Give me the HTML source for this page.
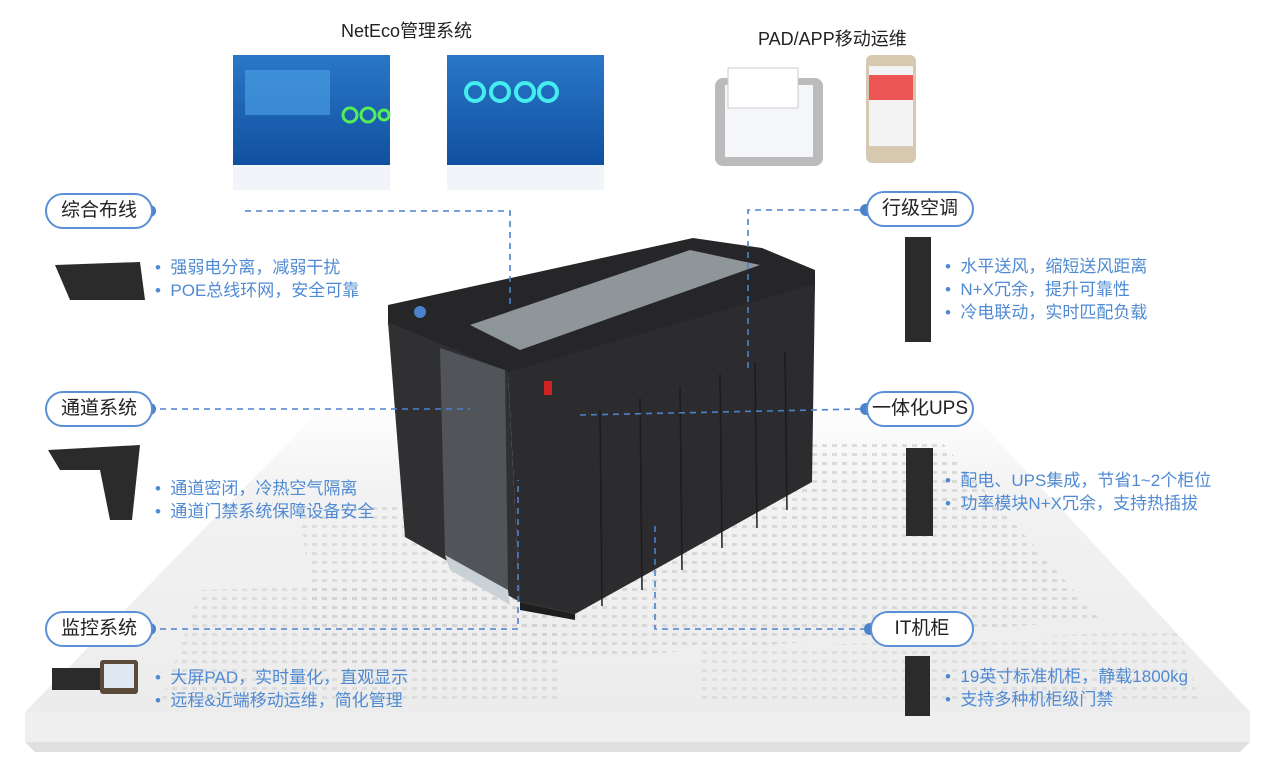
<!DOCTYPE html>
<html><head><meta charset="utf-8"><style>
body{margin:0;width:1273px;height:776px;background:#fff;position:relative;overflow:hidden;font-family:"Liberation Sans","Noto Sans CJK SC",sans-serif}
.pill{position:absolute;height:32px;border:2px solid #5b8fd6;border-radius:18px;background:#fff;font-size:19px;color:#222;line-height:32px;text-align:center;box-sizing:content-box}
.b{position:absolute;font-size:17px;color:#4f8ad3;line-height:23px;white-space:nowrap}
.t{position:absolute;font-size:18px;color:#222}
</style></head><body>
<svg width="1273" height="776" style="position:absolute;left:0;top:0">
<defs>
<linearGradient id="fl" x1="0" y1="0" x2="0" y2="1"><stop offset="0" stop-color="#fff"/><stop offset="0.3" stop-color="#f2f2f2"/><stop offset="1" stop-color="#ececec"/></linearGradient>
<linearGradient id="sc" x1="0" y1="0" x2="0" y2="1"><stop offset="0" stop-color="#2a77c8"/><stop offset="1" stop-color="#1150a0"/></linearGradient>
<pattern id="dots" width="10" height="9" patternUnits="userSpaceOnUse"><rect x="2" y="3" width="5" height="3" fill="#c8c8c8"/></pattern>
</defs>
<polygon points="330,400 960,400 1250,712 25,712" fill="url(#fl)"/>
<polygon points="25,712 1250,712 1250,742 25,742" fill="#efefef"/>
<polygon points="25,742 1250,742 1240,752 35,752" fill="#e0e0e0"/>
<polygon points="300,510 540,500 560,660 320,670" fill="url(#dots)" opacity="0.5"/>
<polygon points="560,450 940,440 1100,620 700,650 560,660" fill="url(#dots)" opacity="0.6"/>
<polygon points="200,590 560,580 560,705 160,705" fill="url(#dots)" opacity="0.45"/>
<polygon points="700,650 1180,630 1200,705 700,705" fill="url(#dots)" opacity="0.4"/>
<rect x="233" y="55" width="157" height="110" fill="url(#sc)"/>
<rect x="447" y="55" width="157" height="110" fill="url(#sc)"/>
<rect x="233" y="165" width="157" height="25" fill="#e8eef6" opacity="0.6"/>
<rect x="447" y="165" width="157" height="25" fill="#e8eef6" opacity="0.6"/>
<rect x="245" y="70" width="85" height="45" fill="#4ea3e8" opacity="0.6"/>
<circle cx="475" cy="92" r="9" fill="none" stroke="#4ee" stroke-width="4"/><circle cx="500" cy="92" r="9" fill="none" stroke="#4ee" stroke-width="4"/><circle cx="525" cy="92" r="9" fill="none" stroke="#4ee" stroke-width="4"/><circle cx="548" cy="92" r="9" fill="none" stroke="#4ee" stroke-width="4"/>
<circle cx="350" cy="115" r="7" fill="none" stroke="#5e5" stroke-width="3"/><circle cx="368" cy="115" r="7" fill="none" stroke="#5e5" stroke-width="3"/><circle cx="384" cy="115" r="5" fill="none" stroke="#5e5" stroke-width="3"/>
<rect x="715" y="78" width="108" height="88" rx="8" fill="#bbb"/>
<rect x="725" y="85" width="88" height="72" fill="#f4f6fa"/>
<rect x="728" y="68" width="70" height="40" fill="#fff" stroke="#ccc"/>
<rect x="866" y="55" width="50" height="108" rx="6" fill="#d7c9b0"/>
<rect x="869" y="66" width="44" height="80" fill="#f3f3f3"/>
<rect x="869" y="75" width="44" height="25" fill="#e55"/>
<polygon points="388,305 693,238 762,248 815,270 815,290 508,378 388,325" fill="#262628"/>
<polygon points="470,325 690,250 760,265 520,350" fill="#8f9699"/>
<polygon points="508,372 815,284 812,482 575,614 520,602" fill="#2c2c2f"/>
<polygon points="388,322 508,372 520,602 405,537" fill="#303033"/>
<polygon points="440,348 505,370 508,590 445,555" fill="#515458"/>
<polygon points="445,555 508,590 510,605 450,570" fill="#c8d2d6"/>
<polygon points="520,602 575,614 575,620 520,610" fill="#1e1e1e"/>
<rect x="544" y="381" width="8" height="14" fill="#c22"/>
<g stroke="#1c1c1c" stroke-width="1.5">
<line x1="600" y1="410" x2="602" y2="606"/><line x1="640" y1="398" x2="642" y2="590"/><line x1="680" y1="386" x2="682" y2="570"/><line x1="720" y1="374" x2="722" y2="548"/><line x1="755" y1="362" x2="757" y2="528"/><line x1="785" y1="352" x2="787" y2="510"/>
</g>
<g stroke="#4a82cc" stroke-width="1.6" stroke-dasharray="6,5" fill="none">
<polyline points="245,211 510,211 510,305"/>
<polyline points="860,210 748,210 748,372"/>
<line x1="160" y1="409" x2="470" y2="409"/>
<line x1="580" y1="415" x2="860" y2="409"/>
<polyline points="160,629 518,629 518,480"/>
<polyline points="866,629 655,629 655,525"/>
</g>
<g fill="#4a82cc"><circle cx="150" cy="211" r="6"/><circle cx="150" cy="409" r="6"/><circle cx="150" cy="629" r="6"/><circle cx="866" cy="210" r="6"/><circle cx="866" cy="409" r="6"/><circle cx="870" cy="629" r="6"/><circle cx="420" cy="312" r="6"/></g>
<g fill="#2b2b2b">
<polygon points="55,265 140,262 145,300 70,300"/>
<polygon points="48,450 140,445 132,520 110,520 100,470 60,470"/>
<rect x="52" y="668" width="48" height="22"/><rect x="100" y="660" width="38" height="34" rx="3" fill="#5a4a3a"/>
<rect x="905" y="237" width="26" height="105"/>
<rect x="906" y="448" width="27" height="88"/>
<rect x="905" y="656" width="25" height="60"/>
</g>
<rect x="104" y="664" width="30" height="24" fill="#dfe8f2"/>
</svg>
<div class="t" style="left:341px;top:17px">NetEco管理系统</div>
<div class="t" style="left:758px;top:25px">PAD/APP移动运维</div>
<div class="pill" style="left:45px;top:193px;width:104px">综合布线</div>
<div class="pill" style="left:45px;top:391px;width:104px">通道系统</div>
<div class="pill" style="left:45px;top:611px;width:104px">监控系统</div>
<div class="pill" style="left:866px;top:191px;width:104px">行级空调</div>
<div class="pill" style="left:866px;top:391px;width:104px">一体化UPS</div>
<div class="pill" style="left:870px;top:611px;width:100px">IT机柜</div>
<div class="b" style="left:155px;top:256px">•&nbsp;&nbsp;强弱电分离，减弱干扰<br>•&nbsp;&nbsp;POE总线环网，安全可靠</div>
<div class="b" style="left:155px;top:477px">•&nbsp;&nbsp;通道密闭，冷热空气隔离<br>•&nbsp;&nbsp;通道门禁系统保障设备安全</div>
<div class="b" style="left:155px;top:666px">•&nbsp;&nbsp;大屏PAD，实时量化，直观显示<br>•&nbsp;&nbsp;远程&amp;近端移动运维，简化管理</div>
<div class="b" style="left:945px;top:255px">•&nbsp;&nbsp;水平送风，缩短送风距离<br>•&nbsp;&nbsp;N+X冗余，提升可靠性<br>•&nbsp;&nbsp;冷电联动，实时匹配负载</div>
<div class="b" style="left:945px;top:469px">•&nbsp;&nbsp;配电、UPS集成，节省1~2个柜位<br>•&nbsp;&nbsp;功率模块N+X冗余，支持热插拔</div>
<div class="b" style="left:945px;top:665px">•&nbsp;&nbsp;19英寸标准机柜，静载1800kg<br>•&nbsp;&nbsp;支持多种机柜级门禁</div>
</body></html>
